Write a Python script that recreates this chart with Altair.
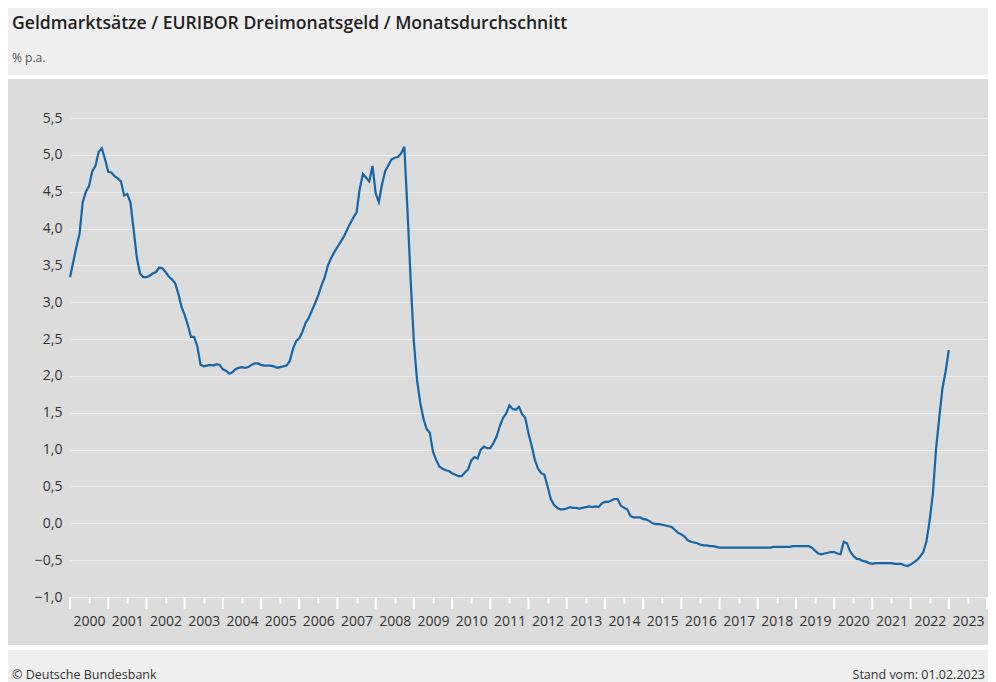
import altair as alt
import pandas as pd

title_text = "Geldmarktsätze / EURIBOR Dreimonatsgeld / Monatsdurchschnitt"
unit_text = "% p.a."
source_text = "© Deutsche Bundesbank"
stand_text = "Stand vom: 01.02.2023"

start_year = 2000
# monthly averages, Jan 2000 .. Jan 2023
r2000 = [3.34, 3.54, 3.75, 3.93, 4.36, 4.50, 4.58, 4.78, 4.85, 5.04, 5.09, 4.94]
r2001 = [4.77, 4.76, 4.71, 4.68, 4.64, 4.45, 4.47, 4.35, 3.98, 3.60, 3.39, 3.34]
r2002 = [3.34, 3.36, 3.39, 3.41, 3.47, 3.46, 3.41, 3.35, 3.31, 3.26, 3.12, 2.94]
r2003 = [2.83, 2.69, 2.53, 2.53, 2.40, 2.15, 2.13, 2.14, 2.15, 2.14, 2.16, 2.15]
r2004 = [2.09, 2.07, 2.03, 2.05, 2.09, 2.11, 2.12, 2.11, 2.12, 2.15, 2.17, 2.17]
r2005 = [2.15, 2.14, 2.14, 2.14, 2.13, 2.11, 2.12, 2.13, 2.14, 2.20, 2.36, 2.47]
r2006 = [2.51, 2.60, 2.72, 2.79, 2.89, 2.99, 3.10, 3.23, 3.34, 3.50, 3.60, 3.68]
r2007 = [3.75, 3.82, 3.89, 3.98, 4.07, 4.15, 4.22, 4.54, 4.74, 4.69, 4.64, 4.85]
r2008 = [4.48, 4.36, 4.60, 4.78, 4.86, 4.94, 4.96, 4.97, 5.02, 5.11, 4.24, 3.29]
r2009 = [2.46, 1.94, 1.64, 1.42, 1.28, 1.23, 0.97, 0.86, 0.77, 0.74, 0.72, 0.71]
r2010 = [0.68, 0.66, 0.64, 0.64, 0.69, 0.73, 0.85, 0.90, 0.88, 1.00, 1.04, 1.02]
r2011 = [1.02, 1.09, 1.18, 1.32, 1.43, 1.49, 1.60, 1.55, 1.54, 1.58, 1.48, 1.43]
r2012 = [1.22, 1.05, 0.86, 0.74, 0.68, 0.66, 0.50, 0.33, 0.25, 0.21, 0.19, 0.19]
r2013 = [0.20, 0.22, 0.21, 0.21, 0.20, 0.21, 0.22, 0.23, 0.22, 0.23, 0.22, 0.27]
r2014 = [0.29, 0.29, 0.31, 0.33, 0.33, 0.24, 0.21, 0.19, 0.10, 0.08, 0.08, 0.08]
r2015 = [0.06, 0.05, 0.03, 0.00, -0.01, -0.01, -0.02, -0.03, -0.04, -0.05, -0.09, -0.13]
r2016 = [-0.15, -0.18, -0.23, -0.25, -0.26, -0.27, -0.29, -0.30, -0.30, -0.31, -0.31, -0.32]
r2017 = [-0.33, -0.33, -0.33, -0.33, -0.33, -0.33, -0.33, -0.33, -0.33, -0.33, -0.33, -0.33]
r2018 = [-0.33, -0.33, -0.33, -0.33, -0.33, -0.32, -0.32, -0.32, -0.32, -0.32, -0.32, -0.31]
r2019 = [-0.31, -0.31, -0.31, -0.31, -0.31, -0.33, -0.37, -0.41, -0.42, -0.41, -0.40, -0.39]
r2020 = [-0.39, -0.41, -0.42, -0.25, -0.27, -0.38, -0.44, -0.48, -0.49, -0.51, -0.52, -0.54]
r2021 = [-0.55, -0.54, -0.54, -0.54, -0.54, -0.54, -0.54, -0.55, -0.55, -0.55, -0.57, -0.58]
r2022 = [-0.56, -0.53, -0.50, -0.45, -0.39, -0.24, 0.04, 0.40, 1.01, 1.43, 1.83, 2.06]
r2023 = [2.35]

rates = (r2000 + r2001 + r2002 + r2003 + r2004 + r2005 + r2006 + r2007 + r2008
         + r2009 + r2010 + r2011 + r2012 + r2013 + r2014 + r2015 + r2016 + r2017
         + r2018 + r2019 + r2020 + r2021 + r2022 + r2023)

y_ticks = [-1.0, -0.5, 0.0, 0.5, 1.0, 1.5, 2.0, 2.5, 3.0, 3.5, 4.0, 4.5, 5.0, 5.5]
year_labels = list(range(2000, 2024))
year_bounds = list(range(2000, 2025))

W, H = 917, 479
PAD_L, PAD_T, PAD_R, PAD_B = 62, 110, 1, 85

FONT = "Open Sans"
LINE_COLOR = "#1765a5"
CHART_BG = "#dcdcdc"
BAND_BG = "#efefef"

line_df = pd.DataFrame({
    "t": [start_year + i / 12 for i in range(len(rates))],
    "v": rates,
})
bounds_df = pd.DataFrame({"t": year_bounds})

x_scale = alt.Scale(domain=[2000, 2024], nice=False, zero=False)
y_scale = alt.Scale(domain=[-1.0, 5.5], nice=False, zero=False)

x_axis = alt.Axis(values=[y + 0.5 for y in year_labels],
                  labelExpr="'' + floor(datum.value)",
                  labelOverlap=False,
                  grid=False, domain=False, ticks=True,
                  tickSize=6, tickWidth=2, tickColor="white",
                  labelPadding=11, labelFont=FONT, labelFontSize=14,
                  labelColor="#333333")

one = pd.DataFrame({"k": [0]})


def band(x1, x2, y1, y2, color):
    return alt.Chart(one).mark_rect(color=color, opacity=1).encode(
        x=alt.value(x1), x2=alt.value(x2), y=alt.value(y1), y2=alt.value(y2)
    )


def label(txt, x, y, size, color, weight="normal", align="left"):
    return alt.Chart(pd.DataFrame({"s": [txt]})).mark_text(
        align=align, baseline="middle", font=FONT, fontSize=size,
        fontWeight=weight, color=color
    ).encode(x=alt.value(x), y=alt.value(y), text="s:N")


line = alt.Chart(line_df).mark_line(color=LINE_COLOR, strokeWidth=2.2).encode(
    x=alt.X("t:Q", scale=x_scale, title=None, axis=x_axis),
    y=alt.Y("v:Q", scale=y_scale, title=None,
            axis=alt.Axis(values=y_ticks,
                          labelExpr="replace(format(datum.value, '.1f'), '.', ',')",
                          labelOverlap=False,
                          grid=True, gridColor="#ededed", gridWidth=1,
                          domain=False, ticks=False, labelPadding=8,
                          labelFont=FONT, labelFontSize=14, labelColor="#333333")),
)

long_ticks = alt.Chart(bounds_df).mark_rule(color="white", strokeWidth=2).encode(
    x=alt.X("t:Q", scale=x_scale, title=None, axis=x_axis),
    y=alt.value(H),
    y2=alt.value(H + 12),
)

x0 = -PAD_L
x1 = W + PAD_R
layers = [
    band(x0, x1, -PAD_T, -43, BAND_BG),
    band(x0, x1, -43, -39, "white"),
    band(x0, x1, 527, 532, "white"),
    band(x0, x1, 532, H + PAD_B, BAND_BG),
    label(title_text, -58, -94, 17.6, "#222222", weight=600),
    label(unit_text, -58, -60, 12, "#555555"),
    label(source_text, -58, 557, 12.5, "#333333"),
    label(stand_text, W - 2, 557, 12.5, "#333333", align="right"),
    line,
    long_ticks,
]

chart = alt.layer(*layers).properties(
    width=W, height=H,
    autosize=alt.AutoSizeParams(type="none"),
    padding={"left": PAD_L, "top": PAD_T, "right": PAD_R, "bottom": PAD_B},
    background=CHART_BG,
).configure_view(stroke=None)

chart.save("out.html", embed_options={"renderer": "svg", "actions": False})
